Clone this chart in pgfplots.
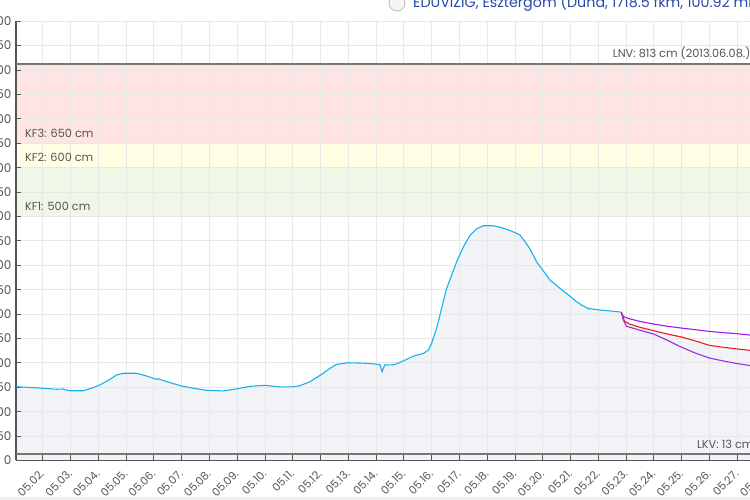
\documentclass[border=0pt]{standalone}
\usepackage{pgfplots}
\usepackage{pgfplotstable}
\pgfplotsset{compat=1.18}
\usepackage{fontspec}
\setmainfont{Poppins}
\definecolor{linecyan}{RGB}{24,178,234}
\definecolor{areafill}{RGB}{242,243,247}
\definecolor{pinkband}{RGB}{255,228,228}
\definecolor{yellowband}{RGB}{255,255,230}
\definecolor{greenband}{RGB}{241,247,231}
\definecolor{gridgray}{RGB}{232,232,232}
\definecolor{threshgray}{RGB}{117,117,117}
\definecolor{axisgray}{RGB}{85,85,85}
\definecolor{labelgray}{RGB}{85,85,85}
\definecolor{titleblue}{RGB}{38,72,168}
\definecolor{purpleA}{RGB}{165,20,245}
\definecolor{purpleB}{RGB}{150,45,225}
\definecolor{fcred}{RGB}{232,28,38}

\pgfplotstableread{
d v
1.04 151.3
1.66 149.3
2.00 148.0
2.50 146.0
2.75 146.5
2.80 145.0
3.00 143.0
3.46 143.0
3.82 149.3
4.06 154.8
4.42 166.4
4.66 175.3
4.90 178.7
5.38 178.7
5.74 173.2
6.10 166.4
6.15 167.5
6.58 159.6
7.00 152.7
7.42 148.0
7.90 143.9
8.50 142.5
8.98 146.6
9.46 152.0
10.00 154.0
10.50 151.0
11.00 151.0
11.26 153.3
11.62 161.5
12.00 175.0
12.34 188.7
12.58 197.0
13.00 200.3
13.53 199.6
14.00 197.6
14.15 196.0
14.22 182.0
14.31 195.6
14.66 196.3
15.00 204.5
15.35 214.0
15.70 219.4
15.88 226.2
16.00 240.0
16.18 270.5
16.36 311.4
16.54 352.2
16.72 379.5
16.90 406.7
17.14 437.3
17.38 461.2
17.62 474.8
17.86 481.0
18.22 481.0
18.46 478.2
18.82 471.4
19.18 462.5
19.54 434.0
19.78 407.2
20.00 390.2
20.26 369.8
20.62 352.9
21.00 335.9
21.21 325.7
21.45 316.8
21.60 313.0
21.65 310.0
21.70 312.0
21.75 310.7
22.00 308.7
22.40 306.7
22.83 304.0
}\obs

\pgfplotstableread{
d v
22.83 304.0
22.90 295.0
23.13 290.3
23.50 285.0
24.00 279.5
24.50 275.0
25.00 271.3
25.50 268.0
26.00 264.5
26.50 262.0
27.00 259.8
27.46 257.0
27.80 255.0
}\fcup

\pgfplotstableread{
d v
22.83 304.0
22.95 285.0
23.13 279.5
23.50 273.0
24.00 265.9
24.50 259.0
25.00 253.0
25.50 245.0
26.00 236.0
26.50 232.0
27.00 228.5
27.46 225.8
27.80 223.5
}\fcmid

\pgfplotstableread{
d v
22.83 304.0
22.90 288.0
23.02 275.0
23.50 267.0
24.00 259.0
24.50 246.0
25.00 232.0
25.50 220.0
26.00 210.0
26.50 204.0
27.00 198.6
27.46 194.6
27.80 192.0
}\fclow

\begin{document}
\begin{tikzpicture}
\begin{axis}[
  set layers,
  at={(16pt,39.5pt)}, anchor=south west,
  scale only axis,
  width=765.6pt, height=439.2pt,
  xmin=1.04, xmax=28.6,
  ymin=0, ymax=900,
  axis x line=bottom, axis y line=left,
  axis line style={draw=axisgray, line width=1.2pt, -},
  tick align=inside,
  major tick length=5pt,
  tick style={draw=axisgray, line width=0.8pt},
  ytick={0,50,...,900},
  xtick={2,3,...,28},
  xticklabels={05.02.,05.03.,05.04.,05.05.,05.06.,05.07.,05.08.,05.09.,05.10.,05.11.,05.12.,05.13.,05.14.,05.15.,05.16.,05.17.,05.18.,05.19.,05.20.,05.21.,05.22.,05.23.,05.24.,05.25.,05.26.,05.27.,05.28.},
  xticklabel style={rotate=45, anchor=north east, font=\fontsize{11}{13}\selectfont, text=labelgray, xshift=-5pt, yshift=0pt},
  yticklabel style={font=\fontsize{12}{14}\selectfont, text=labelgray, xshift=-1pt},
  /pgf/number format/assume math mode=true,
  /pgf/number format/1000 sep={},
  grid=major,
  major grid style={draw=gridgray, line width=0.8pt},
  clip=true,
]
\addplot[draw=none, fill=pinkband, on layer=axis background] coordinates {(1.04,650) (28.6,650) (28.6,813) (1.04,813) (1.04,650)};
\addplot[draw=none, fill=yellowband, on layer=axis background] coordinates {(1.04,600) (28.6,600) (28.6,650) (1.04,650) (1.04,600)};
\addplot[draw=none, fill=greenband, on layer=axis background] coordinates {(1.04,500) (28.6,500) (28.6,600) (1.04,600) (1.04,500)};
\addplot[draw=none, fill=areafill, on layer=axis background] table[x=d,y=v] {\obs} \closedcycle;
\addplot[draw=none, fill=areafill, on layer=axis background] table[x=d,y=v] {\fcmid} \closedcycle;
\addplot[draw=threshgray, line width=2pt] coordinates {(1.04,813) (28.6,813)};
\addplot[draw=threshgray, line width=2pt] coordinates {(1.04,13) (28.6,13)};
\addplot[draw=linecyan, line width=1.1pt] table[x=d,y=v] {\obs};
\addplot[draw=purpleA, line width=1.1pt] table[x=d,y=v] {\fcup};
\addplot[draw=fcred, line width=1.1pt] table[x=d,y=v] {\fcmid};
\addplot[draw=purpleB, line width=1.1pt] table[x=d,y=v] {\fclow};
\node[anchor=west, inner sep=0, text=labelgray, font=\fontsize{11.3}{14}\selectfont] at (axis cs:1.36,670.8) {KF3: 650 cm};
\node[anchor=west, inner sep=0, text=labelgray, font=\fontsize{11.3}{14}\selectfont] at (axis cs:1.36,622) {KF2: 600 cm};
\node[anchor=west, inner sep=0, text=labelgray, font=\fontsize{11.3}{14}\selectfont] at (axis cs:1.36,519.7) {KF1: 500 cm};
\node[anchor=west, inner sep=0, text=labelgray, font=\fontsize{11.3}{14}\selectfont] at (axis cs:22.52,834.8) {LNV: 813 cm (2013.06.08.)};
\node[anchor=west, inner sep=0, text=labelgray, font=\fontsize{11.3}{14}\selectfont] at (axis cs:25.55,33.2) {LKV: 13 cm (2003.08.26.)};
\end{axis}
\fill[gray!12] (0,0) rectangle (750pt,3.3pt);
\draw[gray!55, line width=0.8pt, fill=gray!8] (397pt,497pt) circle (8pt);
\node[anchor=base west, inner sep=0, text=titleblue, font=\fontsize{14.3}{17}\selectfont] at (413pt,492.7pt) {EDUVIZIG, Esztergom (Duna, 1718.5 fkm, 100.92 mBf)};
\pgfresetboundingbox
\useasboundingbox (0,0) rectangle (750pt,500pt);
\end{tikzpicture}
\end{document}
